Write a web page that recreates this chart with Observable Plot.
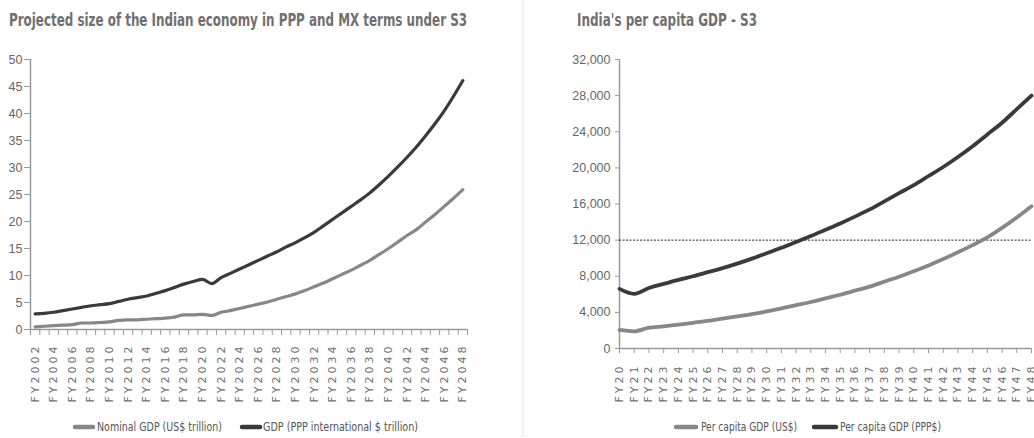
<!DOCTYPE html>
<html><head><meta charset="utf-8">
<script src="https://cdn.jsdelivr.net/npm/d3@7"></script>
<script src="https://cdn.jsdelivr.net/npm/@observablehq/plot@0.6"></script>
<style>
body{margin:0;background:#fff;}
#root{position:relative;width:1034px;height:438px;overflow:hidden;background:#fff;}
#root > svg{position:absolute;}
.lp, .rp {position:absolute; top:40px;}
.lp g[aria-label="x-axis tick label"] text, .rp g[aria-label="x-axis tick label"] text {letter-spacing:3px;}
.txt{position:absolute; white-space:nowrap; transform-origin:0 0; font-family:'Liberation Sans Narrow','DejaVu Sans Condensed',sans-serif; line-height:1;}
.title{font-weight:bold; font-size:18px; color:#707070;}
.leg{font-size:13px; color:#555;}
</style></head><body><div id="root"></div>
<script>
// ---- data ----
const fyYears = d3.range(2002, 2049);
const nominalGDP = [0.5,0.6,0.7,0.8,0.9,1.2,1.2,1.3,1.4,1.7, 1.8,1.8,1.9,2.0,2.1,2.3,2.7,2.7,2.8,2.6, 3.2,3.5,3.9,4.3,4.7,5.1,5.6,6.1,6.6,7.2, 7.9,8.6,9.4,10.2,11.0,11.9,12.8,13.9,15.0,16.2, 17.4,18.5,19.9,21.3,22.8,24.3,25.9];
const pppGDP = [2.9,3.0,3.2,3.5,3.8,4.1,4.4,4.6,4.8,5.2, 5.6,5.9,6.2,6.7,7.2,7.8,8.4,8.9,9.3,8.5, 9.6,10.4,11.2,12.0,12.8,13.6,14.4,15.3,16.1,17.0, 18.0,19.2,20.4,21.6,22.8,24.0,25.3,26.8,28.4,30.1, 31.9,33.8,35.9,38.1,40.5,43.2,46.1];
const pcYears = d3.range(20, 49);
const pcUSD = [2050,1900,2300,2450,2650,2850,3050,3300,3550,3800, 4100,4450,4800,5150,5550,5950,6400,6850,7400,7950, 8550,9200,9900,10650,11450,12300,13350,14500,15750];
const pcPPP = [6600,6050,6700,7150,7600,8000,8450,8900,9400,9950, 10550,11150,11800,12450,13150,13850,14600,15400,16300,17200, 18100,19100,20100,21200,22400,23700,25000,26500,28000];
const leftYTicks = [0,5,10,15,20,25,30,35,40,45,50];
const rightYTicks = [0,4000,8000,12000,16000,20000,24000,28000,32000];
const threshold = 12000;
const leftTitle = "Projected size of the Indian economy in PPP and MX terms under S3";
const rightTitle = "India's per capita GDP - S3";
const leftLegend = ["Nominal GDP (US$ trillion)", "GDP (PPP international $ trillion)"];
const rightLegend = ["Per capita GDP (US$)", "Per capita GDP (PPP$)"];

const lightColor = "#878787", darkColor = "#3a3a3a", axisColor = "#9a9a9a", textColor = "#666";
const root = document.getElementById("root");

// ---- left chart ----
const bounds = fyYears.map(y => y - 0.5).concat([fyYears[fyYears.length - 1] + 0.5]);
const left = Plot.plot({
  className: "lp",
  width: 520, height: 370,
  marginLeft: 30, marginRight: 53, marginTop: 19, marginBottom: 81,
  x: {type: "linear", domain: [bounds[0], bounds[bounds.length - 1]]},
  y: {domain: [0, 50]},
  style: {fontFamily: "Liberation Sans, sans-serif", fontSize: "12px", color: textColor, background: "transparent"},
  marks: [
    Plot.axisY({ticks: leftYTicks, tickSize: 6, tickPadding: 2, stroke: axisColor, fill: textColor, label: null, fontSize: 12.5}),
    Plot.axisX({ticks: bounds, tickSize: 6, tickFormat: () => "", stroke: axisColor, label: null}),
    Plot.axisX({ticks: fyYears.filter((d, i) => i % 2 === 0), tickSize: 0, tickPadding: 14, tickRotate: -90,
      tickFormat: d => "FY" + d, label: null, fill: "#707070", fontSize: 11, fontFamily: "DejaVu Sans, sans-serif"}),
    Plot.ruleX([bounds[0]], {stroke: axisColor, strokeWidth: 1.5}),
    Plot.ruleY([0], {stroke: axisColor, strokeWidth: 1.5}),
    Plot.line(nominalGDP, {x: (d, i) => fyYears[i], y: d => d, stroke: lightColor, strokeWidth: 3.2, curve: "monotone-x"}),
    Plot.line(pppGDP, {x: (d, i) => fyYears[i], y: d => d, stroke: darkColor, strokeWidth: 3.2, curve: "monotone-x"})
  ]
});
left.style.left = "0px";
root.appendChild(left);

// ---- right chart ----
const right = Plot.plot({
  className: "rp",
  width: 514, height: 370,
  marginLeft: 99, marginRight: 3, marginTop: 19, marginBottom: 62,
  x: {domain: [pcYears[0], pcYears[pcYears.length - 1]]},
  y: {domain: [0, 32000]},
  style: {fontFamily: "Liberation Sans, sans-serif", fontSize: "12px", color: textColor, background: "transparent"},
  marks: [
    Plot.axisY({ticks: rightYTicks, tickSize: 4, tickPadding: 5, tickFormat: d3.format(","), stroke: axisColor, fill: textColor, label: null, fontSize: 12.5}),
    Plot.axisX({ticks: pcYears, tickSize: 5, tickPadding: 10, tickRotate: -90, tickFormat: d => "FY" + d,
      stroke: axisColor, label: null, fill: "#707070", fontSize: 11, fontFamily: "DejaVu Sans, sans-serif"}),
    Plot.ruleX([pcYears[0]], {stroke: axisColor, strokeWidth: 1.5}),
    Plot.ruleY([0], {stroke: axisColor, strokeWidth: 1.5}),
    Plot.ruleY([threshold], {stroke: "#222", strokeWidth: 1, strokeDasharray: "2,1.5"}),
    Plot.line(pcUSD, {x: (d, i) => pcYears[i], y: d => d, stroke: lightColor, strokeWidth: 3.8, curve: "monotone-x"}),
    Plot.line(pcPPP, {x: (d, i) => pcYears[i], y: d => d, stroke: darkColor, strokeWidth: 3.8, curve: "monotone-x"})
  ]
});
right.style.left = "520px";
root.appendChild(right);

// ---- separator and legend swatches ----
const svg = d3.select(root).append("svg").attr("width", 1034).attr("height", 438).style("left", "0px").style("top", "0px");
svg.append("line").attr("x1", 523).attr("x2", 523).attr("y1", 0).attr("y2", 438)
  .attr("stroke", "#c8c8c8").attr("stroke-width", 1).attr("stroke-dasharray", "1,1");

// ---- titles and legend texts as condensed HTML text ----
function addText(t, cls, x, top, w) {
  const el = document.createElement("div");
  el.className = "txt " + cls;
  el.textContent = t;
  el.style.left = x + "px";
  el.style.top = top + "px";
  root.appendChild(el);
  const s = w / el.getBoundingClientRect().width;
  el.style.transform = `scaleX(${s})`;
}
addText(leftTitle, "title", 9, 11, 458);
addText(rightTitle, "title", 577, 11, 180);

const legendItems = [
  {label: leftLegend[0], color: lightColor, sx: 73, sw: 22, tx: 97, tw: 125},
  {label: leftLegend[1], color: darkColor, sx: 240, sw: 22, tx: 263, tw: 155},
  {label: rightLegend[0], color: lightColor, sx: 674, sw: 24, tx: 701, tw: 96},
  {label: rightLegend[1], color: darkColor, sx: 812, sw: 26, tx: 840, tw: 101}
];
legendItems.forEach(d => {
  svg.append("line").attr("x1", d.sx + 2).attr("x2", d.sx + d.sw - 2).attr("y1", 427).attr("y2", 427)
    .attr("stroke", d.color).attr("stroke-width", 4.5).attr("stroke-linecap", "round");
  addText(d.label, "leg", d.tx, 420, d.tw);
});
</script></body></html>
